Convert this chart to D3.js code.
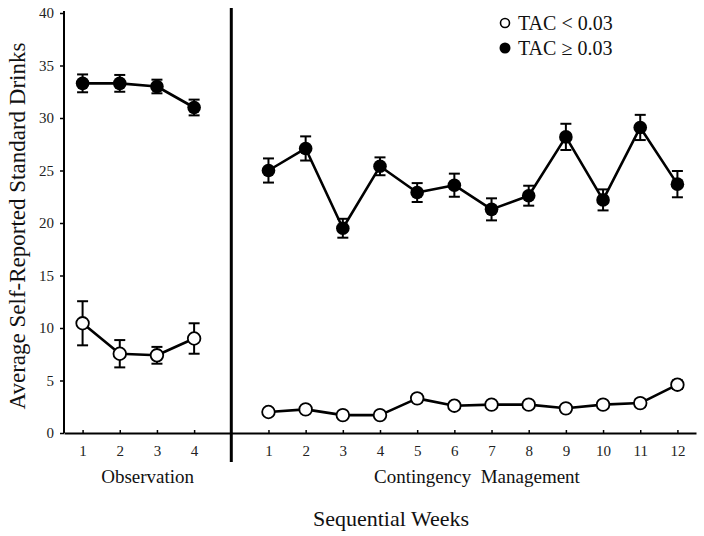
<!DOCTYPE html>
<html>
<head>
<meta charset="utf-8">
<script src="https://cdn.jsdelivr.net/npm/d3@7"></script>
<style>
  html, body { margin: 0; padding: 0; background: #fff; }
  svg { display: block; font-family: "Liberation Serif", "Times New Roman", serif; }
</style>
</head>
<body>
<svg id="chart" width="704" height="536"></svg>
<script>
// ---- Data ----
const obsWeeks = [1, 2, 3, 4];
const cmWeeks = [1, 2, 3, 4, 5, 6, 7, 8, 9, 10, 11, 12];
const yTicks = [0, 5, 10, 15, 20, 25, 30, 35, 40];

const highObs    = [33.3, 33.3, 33.0, 31.0];
const highObsErr = [0.85, 0.8, 0.65, 0.75];
const highCM     = [25.0, 27.1, 19.5, 25.4, 22.9, 23.6, 21.3, 22.6, 28.2, 22.2, 29.1, 23.7];
const highCMErr  = [1.15, 1.15, 0.9, 0.85, 0.9, 1.1, 1.05, 0.95, 1.25, 1.0, 1.2, 1.25];

const lowObs     = [10.45, 7.55, 7.4, 9.0];
const lowObsErr  = [2.1, 1.3, 0.8, 1.45];
const lowCM      = [2.0, 2.25, 1.7, 1.7, 3.3, 2.6, 2.7, 2.7, 2.35, 2.7, 2.85, 4.6];
const lowCMErr   = [0.3, 0.3, 0.25, 0.25, 0.35, 0.3, 0.3, 0.3, 0.3, 0.3, 0.35, 0.4];

const legendLabels = ["TAC < 0.03", "TAC \u2265 0.03"];
const phaseLabels = ["Observation", "Contingency\u00A0\u00A0Management"];

// ---- Scales ----
const svg = d3.select("#chart");
const x = d3.scaleLinear().domain([0.5, 17.5]).range([64, 696]);
const y = d3.scaleLinear().domain([0, 40]).range([433, 13]);

// slot positions: observation weeks at 1..4, gap at 5 (phase divider), CM weeks at 6..17
const obsPos = obsWeeks.map(w => w);
const cmPos = cmWeeks.map(w => w + 5);
const dividerPos = 5;

// ---- Axes ----
const yAxis = d3.axisLeft(y).tickValues(yTicks).tickSize(4).tickPadding(6);
const gy = svg.append("g").attr("transform", `translate(${x(0.5)},0)`).call(yAxis);
gy.select(".domain").attr("stroke", "#000").attr("stroke-width", 2).attr("d", `M0,${y(0)}V${y(40) - 2}`);
gy.selectAll(".tick line").attr("stroke", "#000").attr("stroke-width", 1.5);
gy.selectAll(".tick text").attr("font-size", 15).attr("fill", "#222")
  .attr("font-family", '"Liberation Serif", "Times New Roman", serif');

const allPos = obsPos.concat(cmPos);
const allLabels = obsWeeks.map(String).concat(cmWeeks.map(String));
const xAxis = d3.axisBottom(x).tickValues(allPos)
  .tickFormat((d, i) => allLabels[i]).tickSizeInner(-3).tickSizeOuter(0).tickPadding(12);
const gx = svg.append("g").attr("transform", `translate(0,${y(0)})`).call(xAxis);
gx.select(".domain").attr("stroke", "#000").attr("stroke-width", 2);
gx.selectAll(".tick line").attr("stroke", "#000").attr("stroke-width", 1.5);
gx.selectAll(".tick text").attr("font-size", 15).attr("fill", "#222")
  .attr("font-family", '"Liberation Serif", "Times New Roman", serif');

// phase divider
svg.append("line")
  .attr("x1", x(dividerPos)).attr("x2", x(dividerPos))
  .attr("y1", 8).attr("y2", 462)
  .attr("stroke", "#000").attr("stroke-width", 3);

// ---- Series ----
const line = d3.line().x(d => x(d.p)).y(d => y(d.v));

function series(pos, vals, errs) {
  return pos.map((p, i) => ({ p, v: vals[i], e: errs[i] }));
}

const groups = [
  { data: series(obsPos, lowObs, lowObsErr), filled: false },
  { data: series(cmPos, lowCM, lowCMErr), filled: false },
  { data: series(obsPos, highObs, highObsErr), filled: true },
  { data: series(cmPos, highCM, highCMErr), filled: true }
];

groups.forEach(g => {
  svg.append("path").datum(g.data)
    .attr("d", line).attr("fill", "none")
    .attr("stroke", "#000").attr("stroke-width", 2.6).attr("stroke-linejoin", "round");
});

const cap = 5.5;
groups.forEach(g => {
  const eb = svg.append("g").selectAll("g").data(g.data).join("g");
  eb.append("line")
    .attr("x1", d => x(d.p)).attr("x2", d => x(d.p))
    .attr("y1", d => y(d.v + d.e)).attr("y2", d => y(d.v - d.e))
    .attr("stroke", "#000").attr("stroke-width", 2);
  eb.append("line")
    .attr("x1", d => x(d.p) - cap).attr("x2", d => x(d.p) + cap)
    .attr("y1", d => y(d.v + d.e)).attr("y2", d => y(d.v + d.e))
    .attr("stroke", "#000").attr("stroke-width", 2);
  eb.append("line")
    .attr("x1", d => x(d.p) - cap).attr("x2", d => x(d.p) + cap)
    .attr("y1", d => y(d.v - d.e)).attr("y2", d => y(d.v - d.e))
    .attr("stroke", "#000").attr("stroke-width", 2);
});

groups.forEach(g => {
  svg.append("g").selectAll("circle").data(g.data).join("circle")
    .attr("cx", d => x(d.p)).attr("cy", d => y(d.v))
    .attr("r", g.filled ? 6.8 : 6.3)
    .attr("fill", g.filled ? "#000" : "#fff")
    .attr("stroke", "#000").attr("stroke-width", g.filled ? 0 : 1.8);
});

// ---- Labels ----
svg.append("text")
  .attr("x", (x(0.5) + x(dividerPos)) / 2).attr("y", 483)
  .attr("text-anchor", "middle").attr("font-size", 19).attr("fill", "#111")
  .text(phaseLabels[0]);
svg.append("text")
  .attr("x", 477).attr("y", 483)
  .attr("text-anchor", "middle").attr("font-size", 19).attr("fill", "#111")
  .style("white-space", "pre")
  .text(phaseLabels[1]);
svg.append("text")
  .attr("x", 391).attr("y", 526)
  .attr("text-anchor", "middle").attr("font-size", 22).attr("fill", "#111")
  .text("Sequential Weeks");
svg.append("text")
  .attr("transform", "translate(25,226) rotate(-90)")
  .attr("text-anchor", "middle").attr("font-size", 23).attr("fill", "#111")
  .text("Average Self-Reported Standard Drinks");

// ---- Legend ----
const leg = svg.append("g");
legendLabels.forEach((lab, i) => {
  const cy = 23 + i * 25;
  leg.append("circle").attr("cx", 505).attr("cy", cy)
    .attr("r", i === 0 ? 4.5 : 5.5)
    .attr("fill", i === 0 ? "#fff" : "#000")
    .attr("stroke", "#000").attr("stroke-width", i === 0 ? 1.6 : 0);
  leg.append("text").attr("x", 518).attr("y", cy + 7)
    .attr("font-size", 20).attr("fill", "#111").text(lab);
});
</script>
</body>
</html>
